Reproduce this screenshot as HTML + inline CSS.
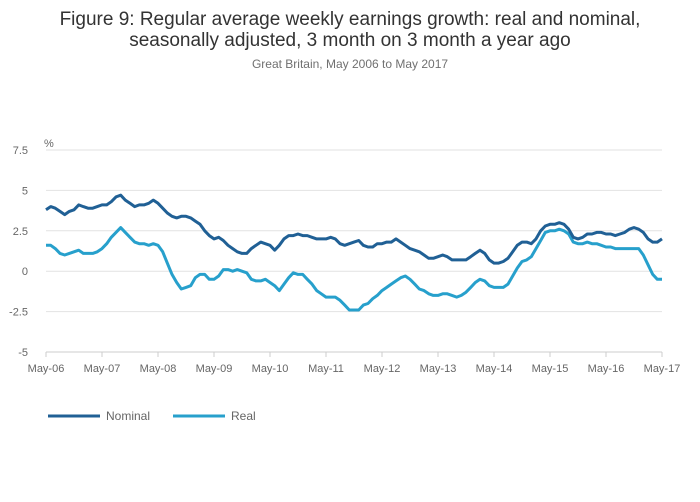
<!DOCTYPE html>
<html><head><meta charset="utf-8"><style>
body{margin:0;background:#fff;font-family:"Liberation Sans",sans-serif;}
#wrap{position:relative;width:700px;height:502px;overflow:hidden}
</style></head><body>
<div id="wrap">
<svg id="chart" width="700" height="502" xmlns="http://www.w3.org/2000/svg">
<text x="350" y="25" text-anchor="middle" font-size="19" fill="#333">Figure 9: Regular average weekly earnings growth: real and nominal,</text>
<text x="350" y="46" text-anchor="middle" font-size="19" fill="#333">seasonally adjusted, 3 month on 3 month a year ago</text>
<text x="350" y="68" text-anchor="middle" font-size="12" fill="#707070">Great Britain, May 2006 to May 2017</text>
<text x="44" y="147" font-size="11" fill="#666">%</text>
<g id="grid"></g><g id="axes"></g><g id="series"></g>
<g>
<line x1="48" y1="416" x2="100" y2="416" stroke="#206095" stroke-width="3"/>
<text x="106" y="420" font-size="12" fill="#666">Nominal</text>
<line x1="173" y1="416" x2="225" y2="416" stroke="#27a0cc" stroke-width="3"/>
<text x="231" y="420" font-size="12" fill="#666">Real</text>
</g>
</svg>
</div>
<script>
const yTicks=[7.5,5,2.5,0,-2.5,-5];
const yTickLabels=["7.5","5","2.5","0","-2.5","-5"];
const xTickLabels=["May-06","May-07","May-08","May-09","May-10","May-11","May-12","May-13","May-14","May-15","May-16","May-17"];
const nominal=[3.8,4.0,3.9,3.7,3.5,3.7,3.8,4.1,4.0,3.9,3.9,4.0,
4.1,4.1,4.3,4.6,4.7,4.4,4.2,4.0,4.1,4.1,4.2,4.4,
4.2,3.9,3.6,3.4,3.3,3.4,3.4,3.3,3.1,2.9,2.5,2.2,
2.0,2.1,1.9,1.6,1.4,1.2,1.1,1.1,1.4,1.6,1.8,1.7,
1.6,1.3,1.6,2.0,2.2,2.2,2.3,2.2,2.2,2.1,2.0,2.0,
2.0,2.1,2.0,1.7,1.6,1.7,1.8,1.9,1.6,1.5,1.5,1.7,
1.7,1.8,1.8,2.0,1.8,1.6,1.4,1.3,1.2,1.0,0.8,0.8,
0.9,1.0,0.9,0.7,0.7,0.7,0.7,0.9,1.1,1.3,1.1,0.7,
0.5,0.5,0.6,0.8,1.2,1.6,1.8,1.8,1.7,2.0,2.5,2.8,
2.9,2.9,3.0,2.9,2.6,2.1,2.0,2.1,2.3,2.3,2.4,2.4,
2.3,2.3,2.2,2.3,2.4,2.6,2.7,2.6,2.4,2.0,1.8,1.8,2.0];
const real=[1.6,1.6,1.4,1.1,1.0,1.1,1.2,1.3,1.1,1.1,1.1,1.2,
1.4,1.7,2.1,2.4,2.7,2.4,2.1,1.8,1.7,1.7,1.6,1.7,
1.6,1.2,0.5,-0.2,-0.7,-1.1,-1.0,-0.9,-0.4,-0.2,-0.2,-0.5,
-0.5,-0.3,0.1,0.1,0.0,0.1,0.0,-0.1,-0.5,-0.6,-0.6,-0.5,
-0.7,-0.9,-1.2,-0.8,-0.4,-0.1,-0.2,-0.2,-0.5,-0.8,-1.2,-1.4,
-1.6,-1.6,-1.6,-1.8,-2.1,-2.4,-2.4,-2.4,-2.1,-2.0,-1.7,-1.5,
-1.2,-1.0,-0.8,-0.6,-0.4,-0.3,-0.5,-0.8,-1.1,-1.2,-1.4,-1.5,
-1.5,-1.4,-1.4,-1.5,-1.6,-1.5,-1.3,-1.0,-0.7,-0.5,-0.6,-0.9,
-1.0,-1.0,-1.0,-0.8,-0.3,0.2,0.6,0.7,0.9,1.4,1.9,2.4,
2.5,2.5,2.6,2.5,2.3,1.8,1.7,1.7,1.8,1.7,1.7,1.6,
1.5,1.5,1.4,1.4,1.4,1.4,1.4,1.4,1.0,0.4,-0.2,-0.5,-0.5];
const NS="http://www.w3.org/2000/svg";
const x0=46,x1=662,yTop=150,yBot=352,vMax=7.5,vMin=-5;
function xs(i){return x0+(x1-x0)*i/(nominal.length-1);}
function ys(v){return yTop+(vMax-v)/(vMax-vMin)*(yBot-yTop);}
function mk(tag,attrs,parent){const e=document.createElementNS(NS,tag);for(const k in attrs)e.setAttribute(k,attrs[k]);document.getElementById(parent).appendChild(e);return e;}
yTicks.forEach((t,k)=>{
 const g=mk('line',{x1:x0,x2:x1,y1:ys(t),y2:ys(t),stroke:t===-5?'#ccc':'#e2e2e2','stroke-width':1},'grid');
 
 
 const l=mk('text',{x:28,y:ys(t)+4,'text-anchor':'end','font-size':11,fill:'#666'},'axes');
 l.textContent=yTickLabels[k];
 
 
});
xTickLabels.forEach((s,k)=>{
 const x=xs(k*12);
 const tk=mk('line',{x1:x,x2:x,y1:yBot,y2:yBot+5,stroke:'#ccc'},'axes');
 
 
 const l=mk('text',{x:x,y:yBot+20,'text-anchor':'middle','font-size':11,fill:'#666'},'axes');
 l.textContent=s;
 
 
});
function line(arr,color,name){
 const d=arr.map((v,i)=>(i?'L':'M')+xs(i).toFixed(1)+','+ys(v).toFixed(1)).join('');
 const p=mk('path',{d:d,fill:'none',stroke:color,'stroke-width':3,'stroke-linejoin':'round'},'series');
 
 
}
line(real,'#27a0cc','real-line');
line(nominal,'#206095','nominal-line');
</script>
</body></html>
